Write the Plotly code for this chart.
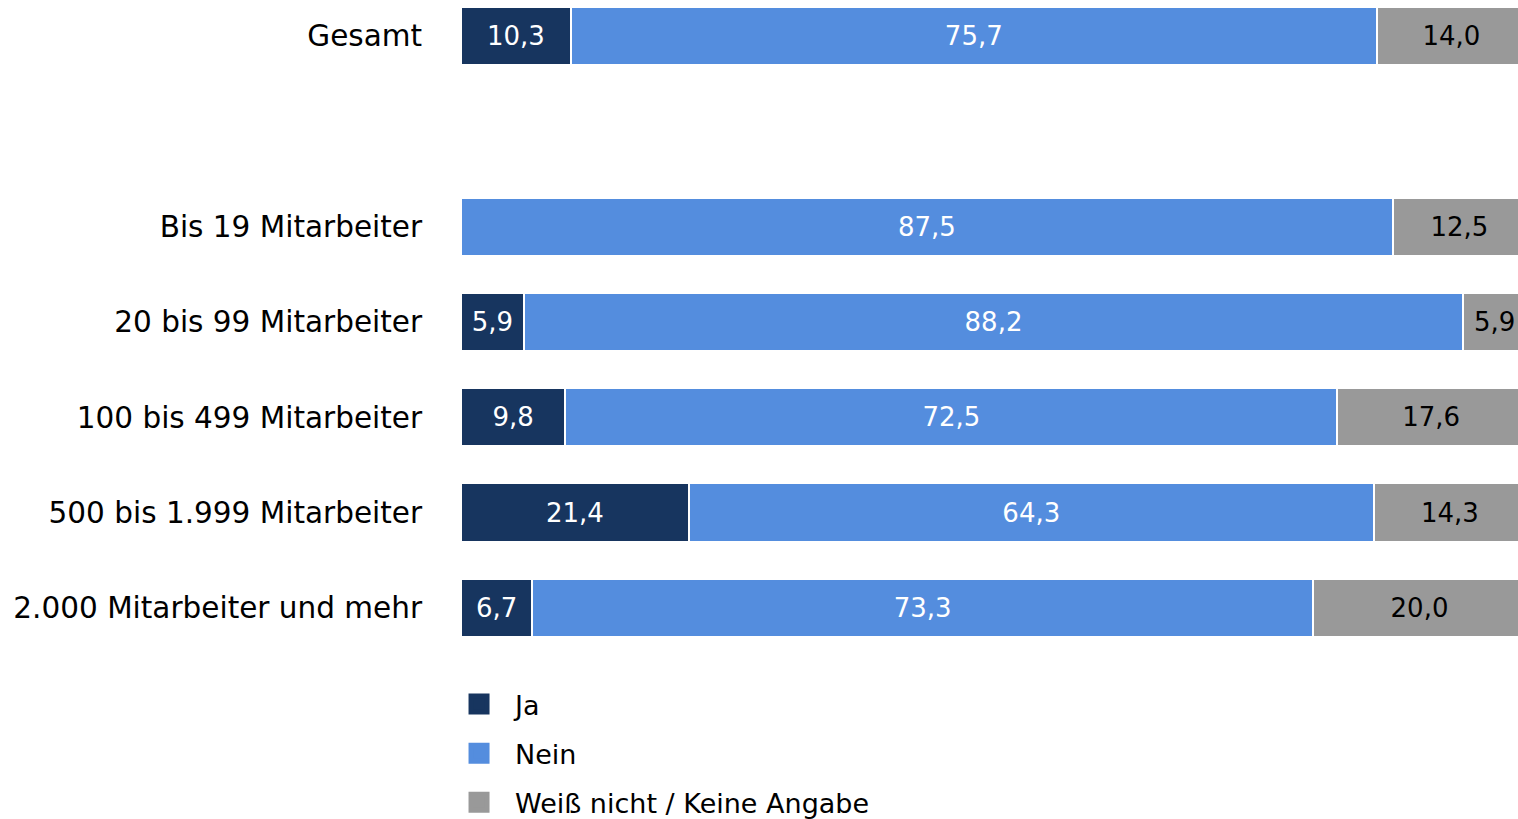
import plotly.graph_objects as go

categories = ["Gesamt", "Bis 19 Mitarbeiter", "20 bis 99 Mitarbeiter", "100 bis 499 Mitarbeiter",
              "500 bis 1.999 Mitarbeiter", "2.000 Mitarbeiter und mehr"]
spacer = " "
ja = [10.3, 0.0, 5.9, 9.8, 21.4, 6.7]
nein = [75.7, 87.5, 88.2, 72.5, 64.3, 73.3]
weiss_nicht = [14.0, 12.5, 5.9, 17.6, 14.3, 20.0]

series = [
    ("Ja", ja, "#17355F", "white"),
    ("Nein", nein, "#548DDE", "white"),
    ("Weiß nicht / Keine Angabe", weiss_nicht, "#999999", "black"),
]

order = [categories[0], spacer] + categories[1:]

FONT = "DejaVu Sans, Verdana, sans-serif"

fig = go.Figure()
for name, vals, color, tcolor in series:
    texts = [("%.1f" % v).replace(".", ",") if v > 0 else "" for v in vals]
    fig.add_trace(go.Bar(
        y=categories, x=vals, name=name, orientation="h",
        marker=dict(color=color, line=dict(color="white", width=2)),
        text=texts, textposition="inside", insidetextanchor="middle",
        textfont=dict(color=tcolor, size=26, family=FONT),
        constraintext="none", showlegend=False,
        hoverinfo="skip",
    ))
# legend entries with larger square symbols
for name, vals, color, tcolor in series:
    fig.add_trace(go.Scatter(
        x=[None], y=[None], mode="markers", name=name, legendgroup=name,
        marker=dict(symbol="square", size=16, color=color, line=dict(color=color, width=5)),
        hoverinfo="skip",
    ))

fig.update_layout(
    width=1518, height=819, autosize=False,
    barmode="stack", bargap=0.39,
    margin=dict(l=461, r=0, t=0, b=159, autoexpand=False),
    plot_bgcolor="white", paper_bgcolor="white",
    font=dict(family=FONT, size=27, color="black"),
    showlegend=True,
    legend=dict(orientation="v", x=-0.017, xanchor="left", y=-0.0303, yanchor="top",
                font=dict(size=27, family=FONT), tracegroupgap=11, itemwidth=62,
                bgcolor="rgba(0,0,0,0)"),
)
fig.update_xaxes(range=[0, 99.25], visible=False, fixedrange=True)
fig.update_yaxes(categoryorder="array", categoryarray=order, range=[6.547, -0.378],
                 showgrid=False, zeroline=False, showline=False, fixedrange=True,
                 ticks="outside", ticklen=32, tickcolor="white",
                 tickfont=dict(size=29.5, family=FONT, color="black"))

post = """
document.body.style.margin='0';
document.body.style.overflow='hidden';
var gd = document.getElementById('{plot_id}');
Plotly.relayout(gd, {width:1518, height:819});
"""
fig.write_html("out.html", config={"responsive": False, "displayModeBar": False}, post_script=post)
